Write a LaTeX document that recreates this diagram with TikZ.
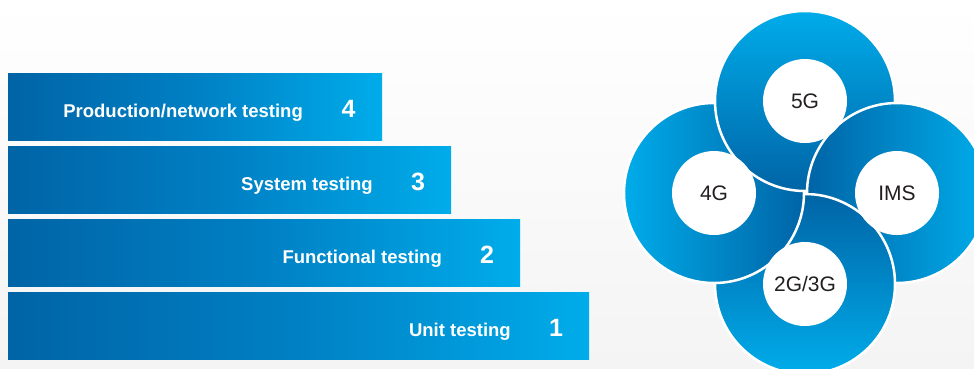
\documentclass[tikz,border=0pt]{standalone}
\usepackage{fontspec}
\setmainfont{Liberation Sans}
\usetikzlibrary{positioning}
\definecolor{deepblue}{RGB}{0,100,166}
\definecolor{midblue}{RGB}{0,128,196}
\definecolor{skyblue}{RGB}{0,172,234}
\definecolor{inkgray}{RGB}{35,31,32}
\definecolor{floorgray}{RGB}{244,244,244}
\tikzset{
  bar/.style={anchor=north west, minimum height=67pt, inner sep=0pt, outer sep=0pt,
    left color=deepblue, right color=skyblue, middle color=midblue},
  barlabel/.style={anchor=base east, inner sep=0pt, text=white, font=\fontsize{18.5}{22}\selectfont\bfseries},
  barnum/.style={anchor=base, inner sep=0pt, text=white, font=\fontsize{25}{30}\selectfont\bfseries},
  ring/.style={circle, minimum size=180pt, inner sep=0pt, draw=white, line width=2.5pt},
  hub/.style={circle, fill=white, minimum size=84pt, inner sep=0pt, text=inkgray, font=\fontsize{21}{25}\selectfont}
}
\begin{document}
\begin{tikzpicture}[x=1pt, y=-1pt]
        \useasboundingbox (0,0) rectangle (974,368);
        \shade[top color=white, middle color=white, bottom color=floorgray] (0,0) rectangle (974,368);

        % test levels
        \node[bar, minimum width=374pt] (bar4) at (8,73) {};
        \node[bar, minimum width=443pt] (bar3) at (8,146) {};
        \node[bar, minimum width=512pt] (bar2) at (8,219) {};
        \node[bar, minimum width=581pt] (bar1) at (8,292) {};

        \node[barlabel] (lab4) at ([xshift=-79pt, yshift=-44.5pt]bar4.north east) {Production/network testing};
        \node[barlabel] (lab3) at ([xshift=-78pt, yshift=-44.5pt]bar3.north east) {System testing};
        \node[barlabel] (lab2) at ([xshift=-78pt, yshift=-44.5pt]bar2.north east) {Functional testing};
        \node[barlabel] (lab1) at ([xshift=-78pt, yshift=-44.5pt]bar1.north east) {Unit testing};

        \node[barnum] (num4) at ([xshift=-33.5pt, yshift=-44.5pt]bar4.north east) {4};
        \node[barnum] (num3) at ([xshift=-33pt, yshift=-44.5pt]bar3.north east) {3};
        \node[barnum] (num2) at ([xshift=-33pt, yshift=-44.5pt]bar2.north east) {2};
        \node[barnum] (num1) at ([xshift=-33pt, yshift=-44.5pt]bar1.north east) {1};

        % interlocking rings
        \node[ring, left color=deepblue, right color=skyblue] (rims) at (897,193) {};
        \node[ring, top color=deepblue, bottom color=skyblue] (r23g) at (805,284) {};
        \node[ring, left color=skyblue, right color=deepblue] (r4g) at (714,193) {};
        \node[ring, top color=skyblue, bottom color=deepblue] (r5g) at (805,101) {};
        \begin{scope}
          \clip (805,0) rectangle (974,192);
          \node[ring, left color=deepblue, right color=skyblue] (rimstop) at (897,193) {};
        \end{scope}

        \node[hub] (hub5g) at (r5g) {5G};
        \node[hub] (hub4g) at (r4g) {4G};
        \node[hub] (hubims) at (rims) {IMS};
        \node[hub] (hub23g) at (r23g) {2G/3G};
\end{tikzpicture}
\end{document}
